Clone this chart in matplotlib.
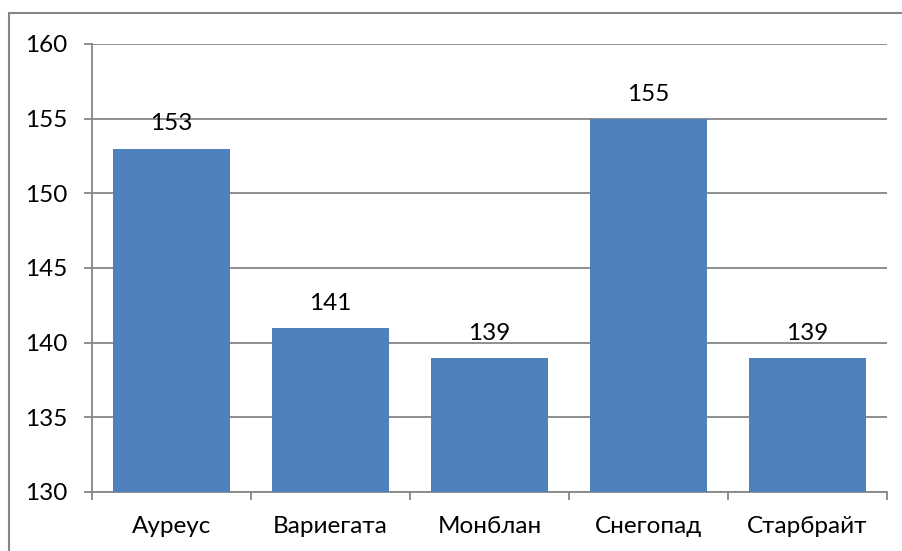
import matplotlib.pyplot as plt
from matplotlib.patches import Rectangle

categories = ['Ауреус', 'Вариегата', 'Монблан', 'Снегопад', 'Старбрайт']
values = [153, 141, 139, 155, 139]
y_ticks = [130, 135, 140, 145, 150, 155, 160]

plt.rcParams['font.family'] = ['Lato', 'DejaVu Sans']
fs = 17.5

fig = plt.figure(figsize=(9.02, 5.51), dpi=100)
ax = fig.add_axes([92 / 902, 1 - 492 / 551, 795 / 902, 448 / 551])

# outer chart frame (runs off right/bottom edges like the original)
fig.patches.append(Rectangle((9 / 902, -0.05), 1.0, 1 - 13 / 551 + 0.05,
                             transform=fig.transFigure, fill=False,
                             edgecolor='#868686', linewidth=1.5))

x = list(range(len(categories)))
ax.bar(x, values, width=0.73, color='#4F81BD', zorder=3)

for xi, v in zip(x, values):
    ax.annotate(str(v), (xi, v), xytext=(0, 13), textcoords='offset points',
                ha='center', va='baseline', fontsize=fs, color='black')

ax.set_ylim(130, 160)
ax.set_xlim(-0.5, len(categories) - 0.5)
ax.set_yticks(y_ticks)
ax.yaxis.grid(True, color='#868686', linewidth=1.3, zorder=0)
ax.set_axisbelow(True)

ax.set_xticks(x)
ax.set_xticklabels(categories)
ax.set_xticks([i - 0.5 for i in range(len(categories) + 1)], minor=True)
ax.tick_params(axis='x', which='major', length=0, pad=17, labelsize=fs)
ax.tick_params(axis='x', which='minor', length=6, width=1.3, color='#868686')
ax.tick_params(axis='y', length=6, width=1.3, color='#868686', pad=12, labelsize=fs)

for side in ['top', 'right']:
    ax.spines[side].set_visible(False)
for side in ['left', 'bottom']:
    ax.spines[side].set_color('#868686')
    ax.spines[side].set_linewidth(1.3)

fig.savefig('out.png', dpi=100)
